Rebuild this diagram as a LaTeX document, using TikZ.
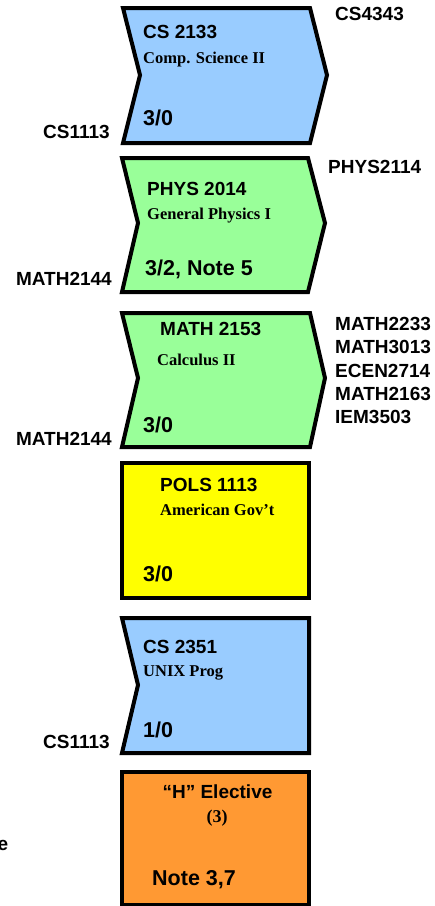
\documentclass[tikz,border=0pt]{standalone}
\usepackage{fontspec}
\setmainfont{Liberation Sans}
\newfontfamily\tnr{Liberation Serif}
\definecolor{cblue}{HTML}{99CCFF}
\definecolor{cgreen}{HTML}{99FF99}
\definecolor{cyellow}{HTML}{FFFF00}
\definecolor{corange}{HTML}{FF9933}
\begin{document}
\begin{tikzpicture}[x=1pt,y=-1pt,
  course/.style={draw=black,line width=4pt,line join=miter},
  ttl/.style={inner sep=0pt,anchor=base west,font=\fontsize{19}{22}\selectfont\bfseries},
  sub/.style={inner sep=0pt,anchor=base west,font=\tnr\fontsize{16.5}{19}\selectfont\bfseries},
  cred/.style={inner sep=0pt,anchor=base west,font=\fontsize{21.5}{24}\selectfont\bfseries},
  lbl/.style={inner sep=0pt,anchor=base west,font=\fontsize{19}{22}\selectfont\bfseries},
  lblr/.style={inner sep=0pt,anchor=base east,font=\fontsize{19}{22}\selectfont\bfseries}]
\useasboundingbox (0,0) rectangle (435,906);
% Box 1
\draw[course,fill=cblue] (123,8) -- (310,8) -- (327,75) -- (310,143) -- (123,143) -- (140,75) -- cycle;
\node[ttl] (t1) at (143,38) {CS 2133};
\node[sub] (s1) at (143,63) {Comp. Science II};
\node[cred] (c1) at (143,125) {3/0};
\node[lbl] (o1) at (335,20) {CS4343};
\node[lblr] (p1) at (110,138) {CS1113};
% Box 2
\draw[course,fill=cgreen] (122,158) -- (308,158) -- (325,223) -- (308,292) -- (122,292) -- (138,223) -- cycle;
\node[ttl] (t2) at (147,195) {PHYS 2014};
\node[sub] (s2) at (147,219) {General Physics I};
\node[cred] (c2) at (145,275) {3/2, Note 5};
\node[lbl] (o2) at (328,173) {PHYS2114};
\node[lblr] (p2) at (112,285) {MATH2144};
% Box 3
\draw[course,fill=cgreen] (122,313) -- (310,313) -- (325,378) -- (310,447) -- (122,447) -- (138,378) -- cycle;
\node[ttl] (t3) at (160,335) {MATH 2153};
\node[sub] (s3) at (157,365) {Calculus II};
\node[cred] (c3) at (143,432) {3/0};
\node[lbl] (o3a) at (335,330) {MATH2233};
\node[lbl] (o3b) at (335,353.5) {MATH3013};
\node[lbl] (o3c) at (335,377) {ECEN2714};
\node[lbl] (o3d) at (335,400) {MATH2163};
\node[lbl] (o3e) at (335,423) {IEM3503};
\node[lblr] (p3) at (112,445) {MATH2144};
% Box 4
\draw[course,fill=cyellow] (122,463) rectangle (309,598);
\node[ttl] (t4) at (160,491) {POLS 1113};
\node[sub] (s4) at (160,515) {American Gov’t};
\node[cred] (c4) at (143,581) {3/0};
% Box 5
\draw[course,fill=cblue] (122,618) -- (309,618) -- (309,753) -- (122,753) -- (138,685) -- cycle;
\node[ttl] (t5) at (143,653) {CS 2351};
\node[sub] (s5) at (143,676) {UNIX Prog};
\node[cred] (c5) at (143,737) {1/0};
\node[lblr] (p5) at (110,748) {CS1113};
% Box 6
\draw[course,fill=corange] (122,772) rectangle (309,905);
\node[ttl,anchor=base] (t6) at (217.5,798) {“H” Elective};
\node[inner sep=0pt,anchor=base,font=\tnr\fontsize{18}{20}\selectfont\bfseries] (s6) at (217,822) {(3)};
\node[cred] (c6) at (152,885) {Note 3,7};
\node[lblr] (e6) at (8.5,850) {e};
\end{tikzpicture}
\end{document}
